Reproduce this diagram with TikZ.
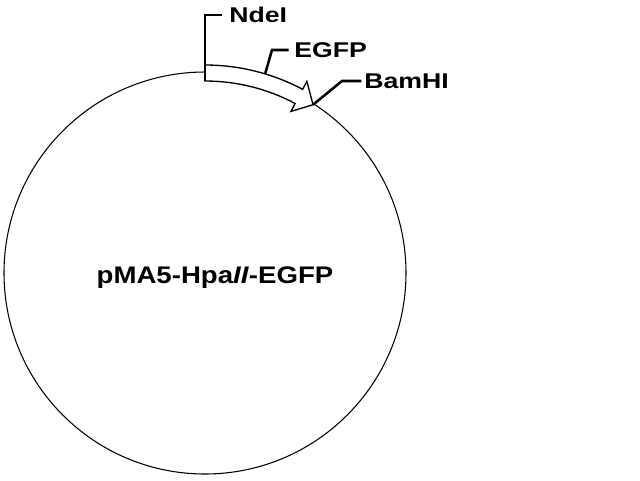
\documentclass[tikz,border=0pt]{standalone}
\usepackage{fontspec}
\setmainfont{Liberation Sans}
\usepackage{graphicx}
\begin{document}
\begin{tikzpicture}[x=0.75pt,y=-0.75pt,
  thinline/.style={line width=0.8pt},
  band/.style={draw, fill=white, line width=1pt, line join=miter},
  leader/.style={line width=1.9pt, line join=miter},
  site/.style={anchor=west, inner sep=0pt, font=\fontsize{16}{18}\selectfont\bfseries},
  title/.style={anchor=base, inner sep=0pt, font=\fontsize{18}{20}\selectfont\bfseries}]
\useasboundingbox (0,0) rectangle (640,480);
\coordinate (c) at (205,273);
\node[circle, draw, thinline, minimum size=301.5pt, inner sep=0pt] (plasmid) at (c) {};
% EGFP gene arrow
\draw[band] ([shift={(-90:208)}]c) coordinate (bo)
  arc[start angle=-90,end angle=-62,radius=208]
  -- ([shift={(-62:217)}]c)
  -- ([shift={(-57.3:200)}]c) coordinate (tip)
  -- ([shift={(-62:183)}]c)
  -- ([shift={(-62:192)}]c)
  arc[start angle=-62,end angle=-90,radius=192] coordinate (bi)
  -- cycle;
% labels
\node[site] (ndei) at (229,15) {\scalebox{1.25}[1]{NdeI}};
\node[site] (egfp) at (294,50) {\scalebox{1.25}[1]{EGFP}};
\node[site] (bamhi) at (364,81) {\scalebox{1.25}[1]{BamHI}};
\node[title] (name) at (215,283) {\scalebox{1.15}[1]{pMA5-Hpa\textit{II}-EGFP}};
% leaders
\coordinate (egfpFoot) at ([shift={(-73.2:208)}]c);
\coordinate (egfpBend) at (272,50);
\coordinate (bamBend) at (342,81);
\draw[leader, shorten >=5pt] (bi) |- (ndei.west);
\draw[leader, shorten >=4pt] (egfpFoot) -- (egfpBend) -- (egfp.west);
\draw[leader, shorten >=2pt] (tip) -- (bamBend) -- (bamhi.west);
\end{tikzpicture}
\end{document}
